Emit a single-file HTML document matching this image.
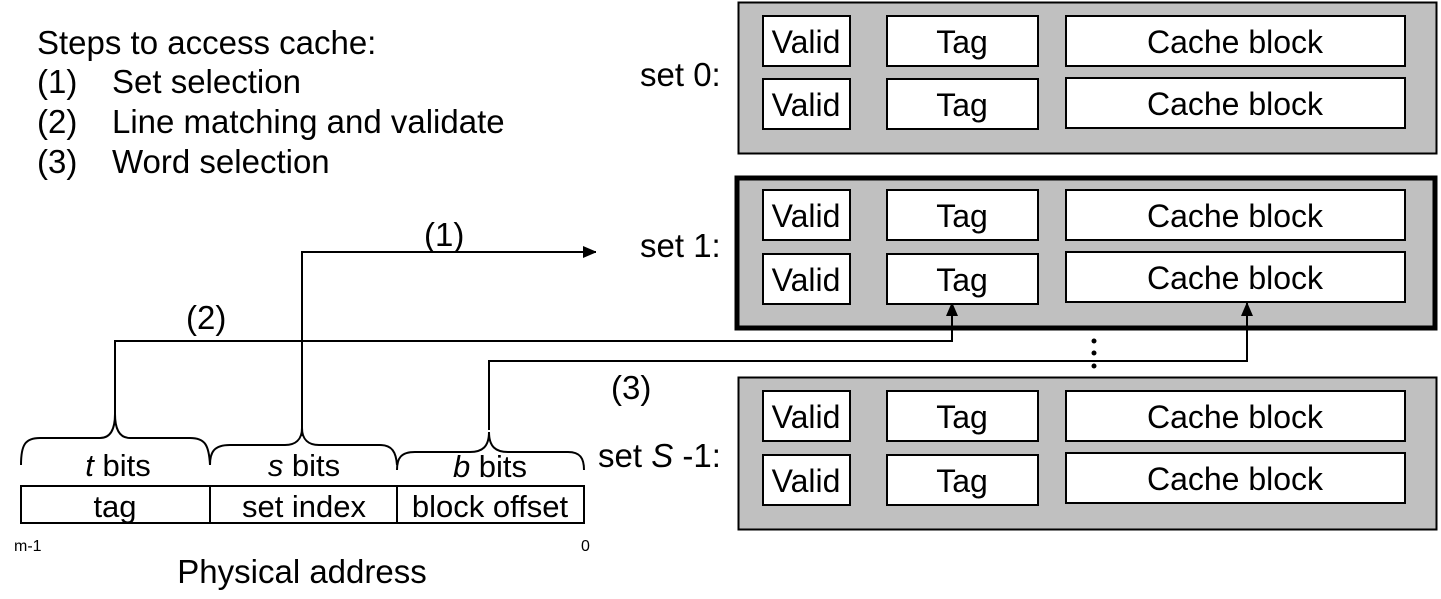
<!DOCTYPE html>
<html><head><style>
body{margin:0;background:#fff;}
svg{display:block;font-family:"Liberation Sans",Arial,sans-serif;}
</style></head><body>
<svg width="1441" height="599" viewBox="0 0 1441 599" xmlns="http://www.w3.org/2000/svg">
<defs><marker id="ar" markerWidth="12" markerHeight="12" refX="13" refY="6" orient="auto" markerUnits="userSpaceOnUse"><path d="M0,0 L14,6 L0,12 z" fill="#000"/></marker></defs>
<g font-size="33" fill="#000">
<text x="37" y="54">Steps to access cache:</text>
<text x="37" y="93">(1)</text><text x="112" y="93">Set selection</text>
<text x="37" y="133">(2)</text><text x="112" y="133">Line matching and validate</text>
<text x="37" y="173">(3)</text><text x="112" y="173">Word selection</text>
</g>
<g stroke="#000" fill="#c0c0c0">
<rect x="738.5" y="2.5" width="698" height="151" stroke-width="2"/>
<rect x="737" y="178" width="698" height="150" stroke-width="5"/>
<rect x="738.5" y="377.5" width="698" height="152" stroke-width="2"/>
</g>
<g stroke="#000" stroke-width="2" fill="#fff">
<rect x="763" y="16" width="87" height="50"/><rect x="887" y="16" width="151" height="50"/><rect x="1066" y="16" width="339" height="50"/>
<rect x="763" y="79" width="87" height="50"/><rect x="887" y="79" width="151" height="50"/><rect x="1066" y="78" width="339" height="50"/>
<rect x="763" y="190" width="87" height="50"/><rect x="887" y="190" width="151" height="50"/><rect x="1066" y="190" width="339" height="50"/>
<rect x="763" y="254" width="87" height="50"/><rect x="887" y="254" width="151" height="50"/><rect x="1066" y="252" width="339" height="50"/>
<rect x="763" y="391" width="87" height="50"/><rect x="887" y="391" width="151" height="50"/><rect x="1066" y="391" width="339" height="50"/>
<rect x="763" y="455" width="87" height="50"/><rect x="887" y="455" width="151" height="50"/><rect x="1066" y="453" width="339" height="50"/>
</g>
<g font-size="32" text-anchor="middle">
<text x="806" y="53">Valid</text><text x="962" y="53">Tag</text><text x="1235" y="53">Cache block</text>
<text x="806" y="116">Valid</text><text x="962" y="116">Tag</text><text x="1235" y="115">Cache block</text>
<text x="806" y="227">Valid</text><text x="962" y="227">Tag</text><text x="1235" y="227">Cache block</text>
<text x="806" y="291">Valid</text><text x="962" y="291">Tag</text><text x="1235" y="289">Cache block</text>
<text x="806" y="428">Valid</text><text x="962" y="428">Tag</text><text x="1235" y="428">Cache block</text>
<text x="806" y="492">Valid</text><text x="962" y="492">Tag</text><text x="1235" y="490">Cache block</text>
</g>
<g font-size="33">
<text x="640" y="86">set 0:</text>
<text x="640" y="257">set 1:</text>
<text x="598" y="467">set <tspan font-style="italic">S</tspan> -1:</text>
<text x="424" y="246">(1)</text>
<text x="186" y="329">(2)</text>
<text x="611" y="399">(3)</text>
</g>
<g fill="#000"><circle cx="1094" cy="341" r="2.5"/><circle cx="1094" cy="353" r="2.5"/><circle cx="1094" cy="366" r="2.5"/></g>
<g stroke="#000" stroke-width="2" fill="none">
<path d="M302,436 V252 H596" marker-end="url(#ar)"/>
<path d="M115,414 V341 H952 V303" marker-end="url(#ar)"/>
<path d="M489,430 V361 H1247 V303" marker-end="url(#ar)"/>
<path d="M21,465 C21,445 25,438 40,438 H100 C110,438 115,430 115,414 C115,430 120,438 130,438 H190 C205,438 209,445 210,465"/>
<path d="M210,465 C210,452 214,445 230,445 H285 C295,445 302,440 302,428 C302,440 309,445 319,445 H380 C392,445 396,452 397,465"/>
<path d="M397,470 C397,458 401,452 415,452 H470 C482,452 489,447 489,432 C489,447 496,452 508,452 H568 C580,452 584,458 584,470"/>
<rect x="21" y="486" width="563" height="37"/>
<line x1="210" y1="486" x2="210" y2="523"/><line x1="397" y1="486" x2="397" y2="523"/>
</g>
<g font-size="31" text-anchor="middle">
<text x="118" y="476"><tspan font-style="italic">t</tspan> bits</text>
<text x="304" y="476"><tspan font-style="italic">s</tspan> bits</text>
<text x="490" y="477"><tspan font-style="italic">b</tspan> bits</text>
<text x="115" y="517">tag</text>
<text x="304" y="517">set index</text>
<text x="490" y="517">block offset</text>
</g>
<text x="302" y="583" font-size="33" text-anchor="middle">Physical address</text>
<text x="14" y="551" font-size="16">m-1</text>
<text x="581" y="551" font-size="16">0</text>
</svg>
</body></html>
